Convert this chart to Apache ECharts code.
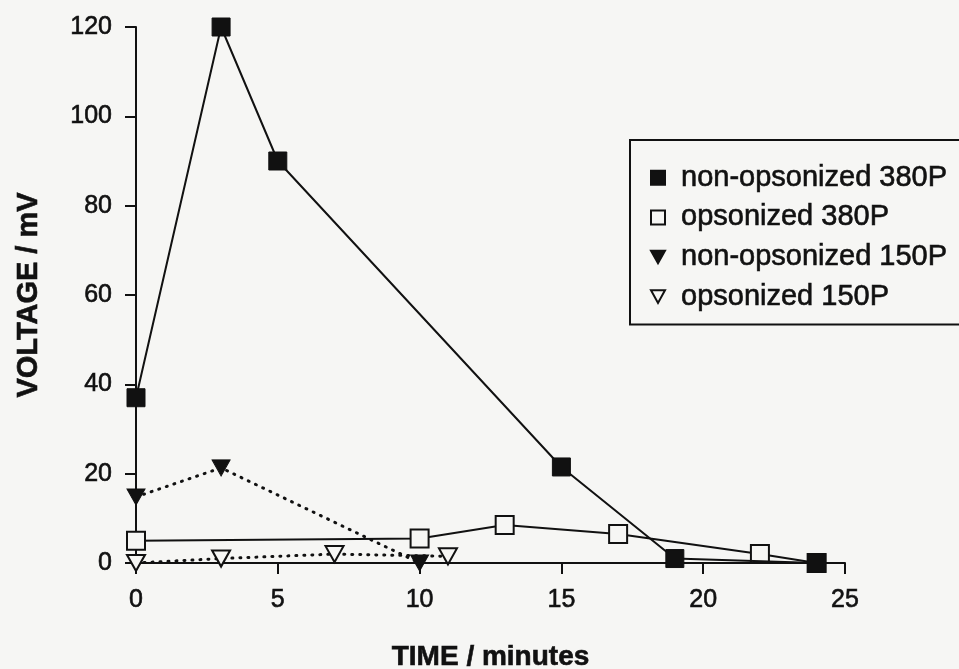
<!DOCTYPE html>
<html>
<head>
<meta charset="utf-8">
<script src="https://cdn.jsdelivr.net/npm/echarts@6/dist/echarts.min.js"></script>
<style>
  html, body { margin: 0; padding: 0; background: #f6f6f4; overflow: hidden; }
  #chart { width: 959px; height: 669px; }
</style>
</head>
<body>
<div id="chart"></div>
<script>
// Membrane voltage response over time for four particle preparations
const seriesNames = [
  'non-opsonized 380P',
  'opsonized 380P',
  'non-opsonized 150P',
  'opsonized 150P'
];

// [time (minutes), voltage (mV)]
const nonOpsonized380 = [[0, 37], [3, 120], [5, 90], [15, 21.5], [19, 1], [24, 0]];
const opsonized380    = [[0, 5], [10, 5.5], [13, 8.5], [17, 6.5], [22, 2], [24, 0]];
const nonOpsonized150 = [[0, 14.8], [3, 21.3], [10, 0]];
const opsonized150    = [[0, 0], [3, 1], [7, 2], [11, 1.5]];

const xTicks = { min: 0, max: 25, step: 5 };
const yTicks = { min: 0, max: 120, step: 20 };

const INK = '#111';
const BG = '#f6f6f4';
const FONT = '"Liberation Sans", Arial, Helvetica, sans-serif';

// downward-pointing triangle marker
const downTri = 'path://M0,0L10,0L5,9Z';

const chart = echarts.init(document.getElementById('chart'), null, { renderer: 'canvas' });

const solid = { color: INK, width: 2, type: 'solid' };
const dotted = { color: INK, width: 3, type: [1, 7], cap: 'round' };

// slightly heavy lettering
const inked = { textBorderColor: INK, textBorderWidth: 0.6 };

chart.setOption({
  backgroundColor: BG,
  animation: false,
  grid: {
    left: 136, right: 114, top: 27, bottom: 106,
    containLabel: false,
    outerBoundsMode: 'none'
  },
  xAxis: {
    type: 'value',
    min: xTicks.min, max: xTicks.max, interval: xTicks.step,
    name: 'TIME / minutes',
    nameLocation: 'middle',
    nameGap: 80,
    nameTextStyle: Object.assign({ fontFamily: FONT, fontWeight: 'bold', fontSize: 28, color: INK }, inked),
    axisLine: { show: true, onZero: false, lineStyle: { color: INK, width: 2 } },
    axisTick: { show: true, inside: false, length: 11, lineStyle: { color: INK, width: 2 } },
    axisLabel: Object.assign({ fontFamily: FONT, fontSize: 25, color: INK, margin: 25 }, inked),
    splitLine: { show: false }
  },
  yAxis: {
    type: 'value',
    min: yTicks.min, max: yTicks.max, interval: yTicks.step,
    name: 'VOLTAGE / mV',
    nameLocation: 'middle',
    nameGap: 93,
    nameTextStyle: Object.assign({ fontFamily: FONT, fontWeight: 'bold', fontSize: 29, color: INK }, inked),
    axisLine: { show: true, onZero: false, lineStyle: { color: INK, width: 2 } },
    axisTick: { show: true, inside: false, length: 11, lineStyle: { color: INK, width: 2 } },
    axisLabel: Object.assign({ fontFamily: FONT, fontSize: 25, color: INK, margin: 24 }, inked),
    splitLine: { show: false }
  },
  legend: {
    orient: 'vertical',
    left: 630, top: 140,
    padding: [23, 40, 13, 20],
    borderColor: INK, borderWidth: 2,
    backgroundColor: BG,
    itemWidth: 14, itemHeight: 14,
    itemGap: 10,
    textStyle: Object.assign({ fontFamily: FONT, fontSize: 29, color: INK, padding: [0, 0, 0, 11] }, inked),
    data: [
      { name: seriesNames[0], icon: 'rect' },
      { name: seriesNames[1], icon: 'rect' },
      { name: seriesNames[2], icon: downTri },
      { name: seriesNames[3], icon: downTri }
    ]
  },
  series: [
    {
      name: seriesNames[1], type: 'line', data: opsonized380,
      symbol: 'rect', symbolSize: 18, clip: false,
      lineStyle: solid,
      itemStyle: { color: BG, borderColor: INK, borderWidth: 2 },
      z: 2
    },
    {
      name: seriesNames[3], type: 'line', data: opsonized150,
      symbol: downTri, symbolSize: [18, 16], clip: false,
      lineStyle: dotted,
      itemStyle: { color: BG, borderColor: INK, borderWidth: 2 },
      z: 3
    },
    {
      name: seriesNames[2], type: 'line', data: nonOpsonized150,
      symbol: downTri, symbolSize: [18, 16], clip: false,
      lineStyle: dotted,
      itemStyle: { color: INK, borderColor: INK, borderWidth: 1 },
      z: 4
    },
    {
      name: seriesNames[0], type: 'line', data: nonOpsonized380,
      symbol: 'rect', symbolSize: 18, clip: false,
      lineStyle: solid,
      itemStyle: { color: INK, borderColor: INK, borderWidth: 1 },
      z: 5
    }
  ]
});
</script>
</body>
</html>
